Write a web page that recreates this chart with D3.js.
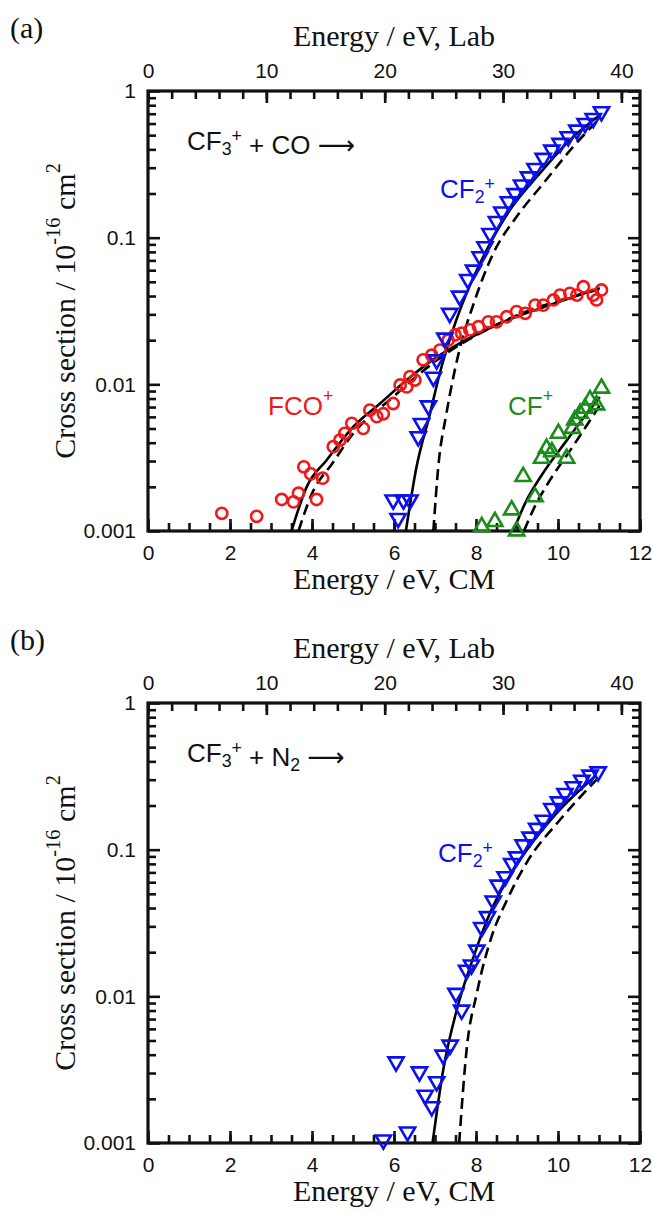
<!DOCTYPE html>
<html>
<head>
<meta charset="utf-8">
<script src="https://cdn.jsdelivr.net/npm/d3@7"></script>
<style>
  body { margin: 0; background: #fff; }
  .tick text { font-family: "Liberation Sans", Arial, sans-serif; font-size: 21px; fill: #111; }
  .title { font-family: "Liberation Serif", "Times New Roman", serif; font-size: 30px; fill: #111; }
  .note { font-family: "Liberation Sans", Arial, sans-serif; font-size: 26px; }
  .arrow { font-family: "DejaVu Sans", sans-serif; }
</style>
</head>
<body>
<svg id="chart" width="653" height="1213"></svg>
<script>
// ---- panel (a): CF3+ + CO ----
var fcoE = [1.80, 2.65, 3.26, 3.55, 3.67, 3.80, 3.97, 4.11, 4.26, 4.52, 4.68, 4.80, 4.97, 5.25, 5.41,
  5.58, 5.74, 5.98, 6.15, 6.31, 6.39, 6.51, 6.71, 6.92, 7.12, 7.32, 7.49, 7.65, 7.85, 8.06, 8.30,
  8.50, 8.75, 8.99, 9.20, 9.44, 9.64, 9.89, 10.05, 10.29, 10.46, 10.62, 10.86, 10.94, 11.06];
var fcoV = [0.00132, 0.00126, 0.00164, 0.00158, 0.00181, 0.00274, 0.00245, 0.00164, 0.00229, 0.00376,
  0.00417, 0.00463, 0.00542, 0.00501, 0.00668, 0.00602, 0.0063, 0.0074, 0.0099, 0.0096, 0.0113,
  0.0107, 0.0147, 0.0158, 0.0171, 0.0200, 0.0217, 0.0223, 0.0235, 0.0247, 0.0267, 0.0267, 0.0289,
  0.0313, 0.0305, 0.0347, 0.0347, 0.0376, 0.0406, 0.0417, 0.0406, 0.0463, 0.0406, 0.0376, 0.044];

var cf2aE = [5.98, 6.10, 6.23, 6.39, 6.59, 6.67, 6.84, 6.96, 7.04, 7.24, 7.36, 7.60, 7.80, 7.94, 8.10,
  8.22, 8.34, 8.50, 8.63, 8.79, 8.95, 9.11, 9.28, 9.44, 9.64, 9.85, 10.05, 10.25, 10.46, 10.66, 10.86, 11.06];
var cf2aV = [0.00163, 0.00122, 0.00163, 0.00163, 0.0044, 0.00542, 0.00714, 0.0112, 0.0147, 0.0207,
  0.0305, 0.040, 0.052, 0.0602, 0.0742, 0.0868, 0.107, 0.129, 0.150, 0.176, 0.200, 0.229, 0.260,
  0.297, 0.348, 0.396, 0.44, 0.488, 0.542, 0.602, 0.651, 0.723];

var cfE = [8.14, 8.46, 8.87, 8.99, 9.15, 9.44, 9.60, 9.72, 9.85, 10.01, 10.21, 10.35, 10.41, 10.54,
  10.66, 10.78, 10.94, 11.06];
var cfV = [0.00107, 0.00116, 0.00139, 0.00100, 0.00235, 0.00171, 0.00313, 0.00366, 0.00347, 0.00463,
  0.00313, 0.0050, 0.00571, 0.00634, 0.00687, 0.00782, 0.00723, 0.0094];

// model curves (solid / dashed)
var fcoFitE = [3.50, 3.87, 4.36, 5.01, 5.66, 6.31, 6.96, 7.60, 8.59, 9.80, 11.02];
var fcoFitV = [0.001, 0.0020, 0.00305, 0.00514, 0.0074, 0.0107, 0.0148, 0.019, 0.0261, 0.0347, 0.0452];
var fcoDashE = [3.67, 4.0, 4.5, 5.0, 6.0, 7.0, 8.5, 11.02];
var fcoDashV = [0.001, 0.0018, 0.0029, 0.0046, 0.0083, 0.0143, 0.0255, 0.0445];

var cf2aFitE = [6.29, 6.55, 6.88, 7.12, 7.49, 7.77, 8.26, 8.83, 9.56, 10.29, 11.02];
var cf2aFitV = [0.001, 0.00274, 0.00634, 0.012, 0.026, 0.0417, 0.0824, 0.155, 0.275, 0.463, 0.686];
var cf2aDashE = [6.96, 7.08, 7.28, 7.57, 7.95, 8.42, 8.99, 9.64, 10.37, 11.02];
var cf2aDashV = [0.001, 0.00274, 0.00634, 0.016, 0.036, 0.078, 0.139, 0.234, 0.417, 0.651];

var cfFitE = [8.91, 9.20, 9.60, 10.20, 10.60, 11.02];
var cfFitV = [0.001, 0.00155, 0.0024, 0.0041, 0.0058, 0.0082];
var cfDashE = [9.17, 9.45, 9.75, 10.37, 11.02];
var cfDashV = [0.001, 0.0015, 0.0021, 0.0038, 0.0072];

// ---- panel (b): CF3+ + N2 ----
var cf2bE = [5.74, 6.05, 6.33, 6.62, 6.76, 6.92, 7.04, 7.20, 7.37, 7.51, 7.65, 7.77, 7.89, 8.02, 8.14,
  8.28, 8.42, 8.54, 8.71, 8.87, 8.99, 9.15, 9.32, 9.48, 9.64, 9.85, 10.01, 10.17, 10.37, 10.58, 10.78, 10.98];
var cf2bV = [0.00105, 0.00358, 0.00119, 0.00306, 0.00212, 0.00177, 0.00262, 0.00398, 0.00466, 0.0105,
  0.00807, 0.0151, 0.0164, 0.0207, 0.0295, 0.035, 0.0448, 0.0574, 0.0655, 0.0807, 0.0895, 0.108,
  0.122, 0.14, 0.159, 0.191, 0.212, 0.242, 0.269, 0.298, 0.323, 0.34];

var cf2bFitE = [6.94, 7.20, 7.53, 7.94, 8.36, 9.07, 9.89, 10.94];
var cf2bFitV = [0.001, 0.00315, 0.00807, 0.0186, 0.038, 0.085, 0.168, 0.323];
var cf2bDashE = [7.59, 7.77, 8.02, 8.38, 8.75, 9.24, 10.05, 10.94];
var cf2bDashV = [0.001, 0.0043, 0.0105, 0.0255, 0.045, 0.082, 0.16, 0.3];

// axes
var cmTicks = [0, 2, 4, 6, 8, 10, 12];
var labTicks = [0, 10, 20, 30, 40];
var yTicks = [0.001, 0.01, 0.1, 1];
var labToCm = 28 / 97;   // m(CO or N2) / (m(CF3+) + m)

var BLUE = '#0a10f0', RED = '#f01818', GREEN = '#1c8c1c';

var svg = d3.select('#chart');
var LEFT = 148, W = 492, H = 440;

function pts(es, vs) {
  return es.map(function(e, i) { return [e, vs[i]]; });
}

// parts = [[text, kind, dy, class]]; kind sub/sup shrinks and shifts the baseline
function rich(t, parts) {
  parts.forEach(function(p) {
    var ts = t.append('tspan').text(p[0]);
    if (p[1] === 'sub') ts.attr('font-size', '0.68em').attr('dy', '0.3em');
    if (p[1] === 'sup') ts.attr('font-size', '0.68em').attr('dy', '-0.75em');
    if (p[2] != null) ts.attr('dy', p[2] + 'em');
    if (p[3]) ts.attr('class', p[3]);
  });
}

function drawPanel(top, tag, panel) {
  var g = svg.append('g');
  var x = d3.scaleLinear().domain([0, 12]).range([LEFT, LEFT + W]);
  var lab = d3.scaleLinear().domain([0, 12 / labToCm]).range([LEFT, LEFT + W]);
  var y = d3.scaleLog().domain([0.001, 1]).range([top + H, top]);

  var yMinor = [];
  [0.001, 0.01, 0.1].forEach(function(d) {
    for (var k = 2; k <= 9; k++) yMinor.push(d * k);
  });

  // minor ticks
  g.append('g').attr('transform', 'translate(0,' + (top + H) + ')')
    .call(d3.axisBottom(x).tickValues(d3.range(0, 12.01, 0.5)).tickSize(-8).tickFormat(''));
  g.append('g').attr('transform', 'translate(0,' + top + ')')
    .call(d3.axisTop(lab).tickValues(d3.range(0, 41, 2)).tickSize(-8).tickFormat(''));
  g.append('g').attr('transform', 'translate(' + LEFT + ',0)')
    .call(d3.axisLeft(y).tickValues(yMinor).tickSize(-8).tickFormat(''));
  g.append('g').attr('transform', 'translate(' + (LEFT + W) + ',0)')
    .call(d3.axisRight(y).tickValues(yMinor).tickSize(-8).tickFormat(''));

  // major ticks + labels
  g.append('g').attr('transform', 'translate(0,' + (top + H) + ')')
    .call(d3.axisBottom(x).tickValues(cmTicks).tickSize(-12).tickPadding(14).tickFormat(d3.format('d')));
  g.append('g').attr('transform', 'translate(0,' + top + ')')
    .call(d3.axisTop(lab).tickValues(labTicks).tickSize(-12).tickPadding(13).tickFormat(d3.format('d')));
  g.append('g').attr('transform', 'translate(' + LEFT + ',0)')
    .call(d3.axisLeft(y).tickValues(yTicks).tickSize(-12).tickPadding(12).tickFormat(function(d) { return String(d); }));
  g.append('g').attr('transform', 'translate(' + (LEFT + W) + ',0)')
    .call(d3.axisRight(y).tickValues(yTicks).tickSize(-12).tickFormat(''));

  g.selectAll('.domain').remove();
  g.selectAll('.tick line').attr('stroke', '#111').attr('stroke-width', 2.6);

  // frame
  g.append('rect').attr('x', LEFT).attr('y', top).attr('width', W).attr('height', H)
    .attr('fill', 'none').attr('stroke', '#111').attr('stroke-width', 3.2);

  // titles
  g.append('text').attr('class', 'title').attr('x', 10).attr('y', top - 53).text(tag);
  g.append('text').attr('class', 'title').attr('x', LEFT + W / 2).attr('y', top - 45)
    .attr('text-anchor', 'middle').text('Energy / eV, Lab');
  g.append('text').attr('class', 'title').attr('x', LEFT + W / 2).attr('y', top + H + 58)
    .attr('text-anchor', 'middle').text('Energy / eV, CM');
  var yt = g.append('text').attr('class', 'title').attr('text-anchor', 'middle')
    .attr('transform', 'translate(' + 75 + ',' + (top + H / 2) + ') rotate(-90)');
  rich(yt, [['Cross section / 10'], ['-16', 'sup'], ['\u00a0cm', null, 0.51], ['2', 'sup']]);

  var line = d3.line().x(function(d) { return x(d[0]); }).y(function(d) { return y(d[1]); })
    .curve(d3.curveMonotoneX);

  panel.curves.forEach(function(c) {
    g.append('path').attr('d', line(pts(c[0], c[1])))
      .attr('fill', 'none').attr('stroke', '#000').attr('stroke-width', 2.6)
      .attr('stroke-dasharray', c[2] ? '11,6' : null);
  });

  panel.series.forEach(function(s) {
    var data = pts(s.e, s.v);
    if (s.shape === 'circle') {
      g.selectAll(null).data(data).enter().append('circle')
        .attr('cx', function(d) { return x(d[0]); }).attr('cy', function(d) { return y(d[1]); })
        .attr('r', 5.6).attr('fill', 'none').attr('stroke', s.color).attr('stroke-width', 2.6);
    } else {
      var sym = d3.symbol().type(d3.symbolTriangle).size(100);
      g.selectAll(null).data(data).enter().append('path')
        .attr('d', sym)
        .attr('transform', function(d) {
          return 'translate(' + x(d[0]) + ',' + y(d[1]) + ')' + (s.shape === 'down' ? ' rotate(180)' : '');
        })
        .attr('fill', 'none').attr('stroke', s.color).attr('stroke-width', 2.6);
    }
  });

  panel.notes.forEach(function(n) {
    var t = g.append('text').attr('class', 'note').attr('x', n.x).attr('y', top + n.dy).attr('fill', n.color);
    rich(t, n.parts);
  });
}

drawPanel(91, '(a)', {
  curves: [[fcoFitE, fcoFitV], [fcoDashE, fcoDashV, true], [cf2aFitE, cf2aFitV], [cf2aDashE, cf2aDashV, true],
    [cfFitE, cfFitV], [cfDashE, cfDashV, true]],
  series: [{e: fcoE, v: fcoV, shape: 'circle', color: RED},
    {e: cf2aE, v: cf2aV, shape: 'down', color: BLUE},
    {e: cfE, v: cfV, shape: 'up', color: GREEN}],
  notes: [
    {x: 187, dy: 59, color: '#111', parts: [['CF'], ['3', 'sub'], ['+', 'sup'], [' + CO ', null, 0.45], ['\u27f6', null, null, 'arrow']]},
    {x: 440, dy: 107, color: BLUE, parts: [['CF'], ['2', 'sub'], ['+', 'sup']]},
    {x: 268, dy: 324, color: RED, parts: [['FCO'], ['+', 'sup']]},
    {x: 508, dy: 324, color: GREEN, parts: [['CF'], ['+', 'sup']]}
  ]
});

drawPanel(703, '(b)', {
  curves: [[cf2bFitE, cf2bFitV], [cf2bDashE, cf2bDashV, true]],
  series: [{e: cf2bE, v: cf2bV, shape: 'down', color: BLUE}],
  notes: [
    {x: 187, dy: 59, color: '#111', parts: [['CF'], ['3', 'sub'], ['+', 'sup'], [' + N', null, 0.45], ['2', 'sub'],
      [' ', null, -0.2], ['\u27f6', null, null, 'arrow']]},
    {x: 438, dy: 159, color: BLUE, parts: [['CF'], ['2', 'sub'], ['+', 'sup']]}
  ]
});
</script>
</body>
</html>
